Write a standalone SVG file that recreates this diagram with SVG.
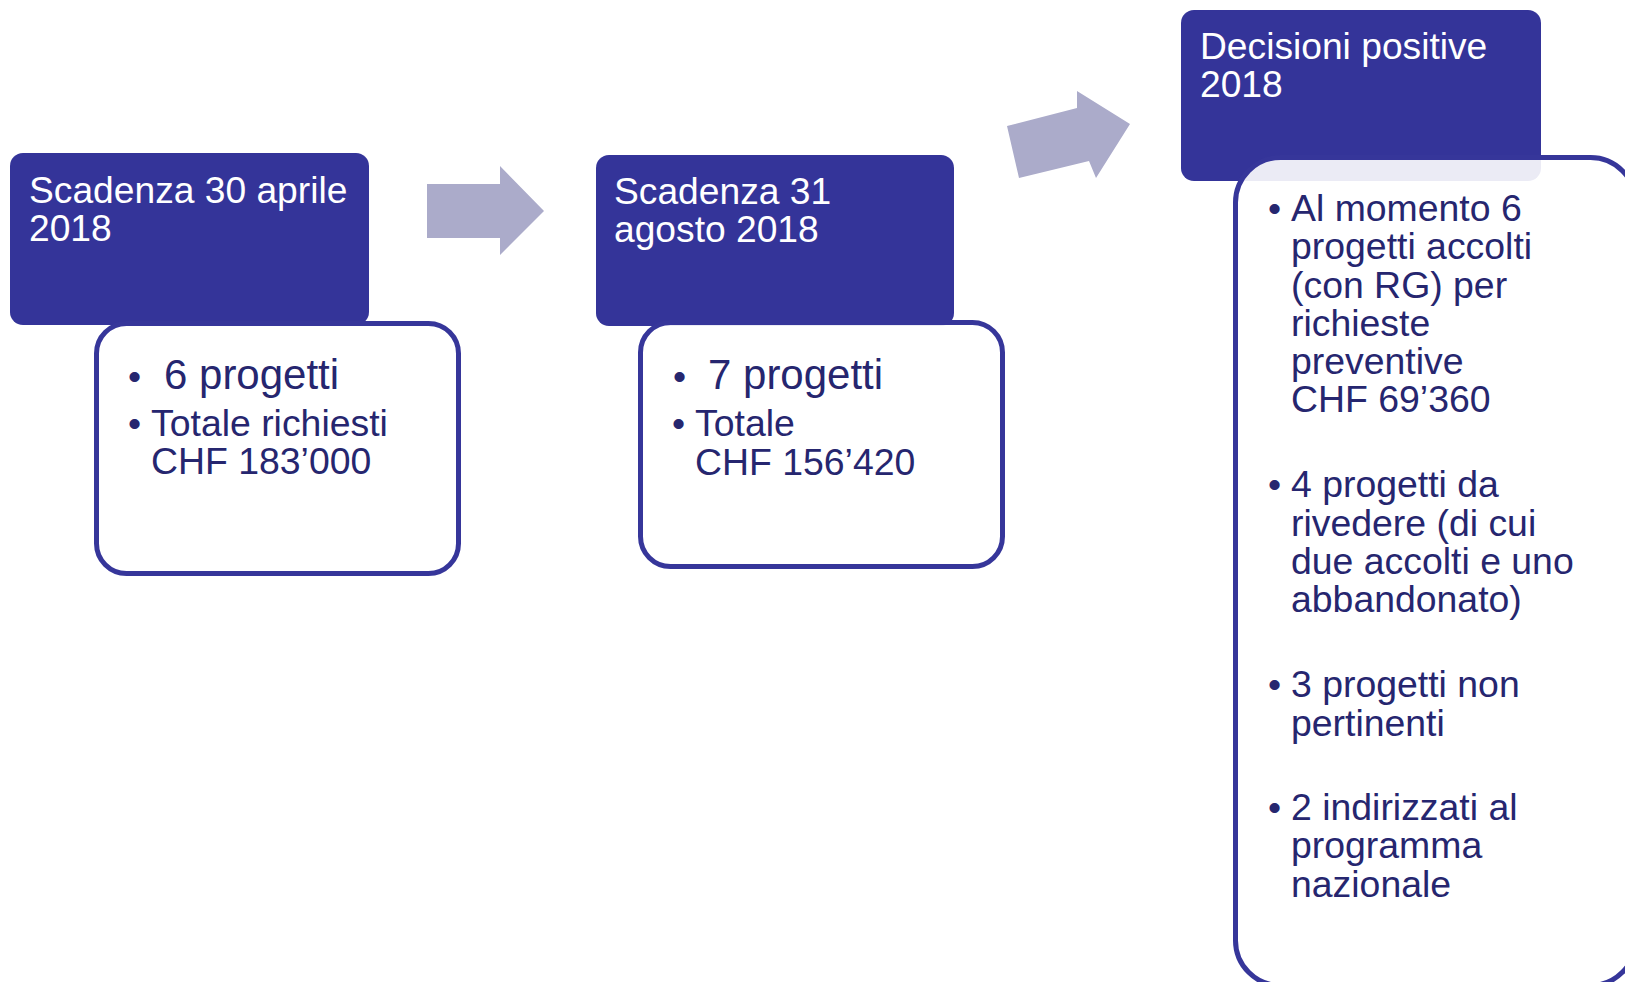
<svg xmlns="http://www.w3.org/2000/svg" width="1625" height="982" viewBox="0 0 1625 982">
<style>
.hdr{fill:#343499}
.box{fill:#ffffff;fill-opacity:0.9;stroke:#36369a;stroke-width:5}
.ht{font-family:"Liberation Sans",Arial,sans-serif;font-size:37.2px;fill:#ffffff}
.bt{font-family:"Liberation Sans",Arial,sans-serif;font-size:37.4px;fill:#26266f}
.big{font-size:42px}
.arr{fill:#ababca}
</style>
<rect width="1625" height="982" fill="#ffffff"/>
<g id="connectors">
<polygon class="arr" points="427,184 500,184 500,166 544,211 500,255 500,238 427,238"/>
<polygon class="arr" points="1007,126 1077,108 1077,91 1130,124 1096,178 1089,161 1019,178"/>
</g>
<g id="node1">
<rect class="hdr" x="10" y="153" width="359" height="172" rx="13"/>
<text class="ht" x="29" y="203">Scadenza 30 aprile</text>
<text class="ht" x="29" y="241">2018</text>
<rect class="box" x="96.5" y="323.5" width="362" height="250" rx="30"/>
<text class="bt" x="128" y="389">•</text>
<text class="bt big" x="164" y="389">6 progetti</text>
<text class="bt" x="128" y="436">•</text>
<text class="bt" x="151" y="436">Totale richiesti</text>
<text class="bt" x="151" y="474">CHF 183’000</text>
</g>
<g id="node2">
<rect class="hdr" x="596" y="155" width="358" height="171" rx="13"/>
<text class="ht" x="614" y="204">Scadenza 31</text>
<text class="ht" x="614" y="242">agosto 2018</text>
<rect class="box" x="640.5" y="322.5" width="362" height="244" rx="30"/>
<text class="bt" x="673" y="389">•</text>
<text class="bt big" x="708" y="389">7 progetti</text>
<text class="bt" x="672" y="436">•</text>
<text class="bt" x="695" y="436">Totale</text>
<text class="bt" x="695" y="475">CHF 156’420</text>
</g>
<g id="node3">
<rect class="hdr" x="1181" y="10" width="360" height="171" rx="13"/>
<text class="ht" x="1200" y="59">Decisioni positive</text>
<text class="ht" x="1200" y="97">2018</text>
<rect class="box" x="1235.5" y="157.5" width="400" height="828" rx="45"/>
<text class="bt"><tspan x="1268" y="221">•</tspan><tspan x="1268" y="497">•</tspan><tspan x="1268" y="697">•</tspan><tspan x="1268" y="820">•</tspan></text>
<text class="bt">
<tspan x="1291" y="221">Al momento 6</tspan>
<tspan x="1291" y="259">progetti accolti</tspan>
<tspan x="1291" y="298">(con RG) per</tspan>
<tspan x="1291" y="336">richieste</tspan>
<tspan x="1291" y="374">preventive</tspan>
<tspan x="1291" y="412">CHF 69’360</tspan>
<tspan x="1291" y="497">4 progetti da</tspan>
<tspan x="1291" y="536">rivedere (di cui</tspan>
<tspan x="1291" y="574">due accolti e uno</tspan>
<tspan x="1291" y="612">abbandonato)</tspan>
<tspan x="1291" y="697">3 progetti non</tspan>
<tspan x="1291" y="736">pertinenti</tspan>
<tspan x="1291" y="820">2 indirizzati al</tspan>
<tspan x="1291" y="858">programma</tspan>
<tspan x="1291" y="897">nazionale</tspan>
</text>
</g>
</svg>
